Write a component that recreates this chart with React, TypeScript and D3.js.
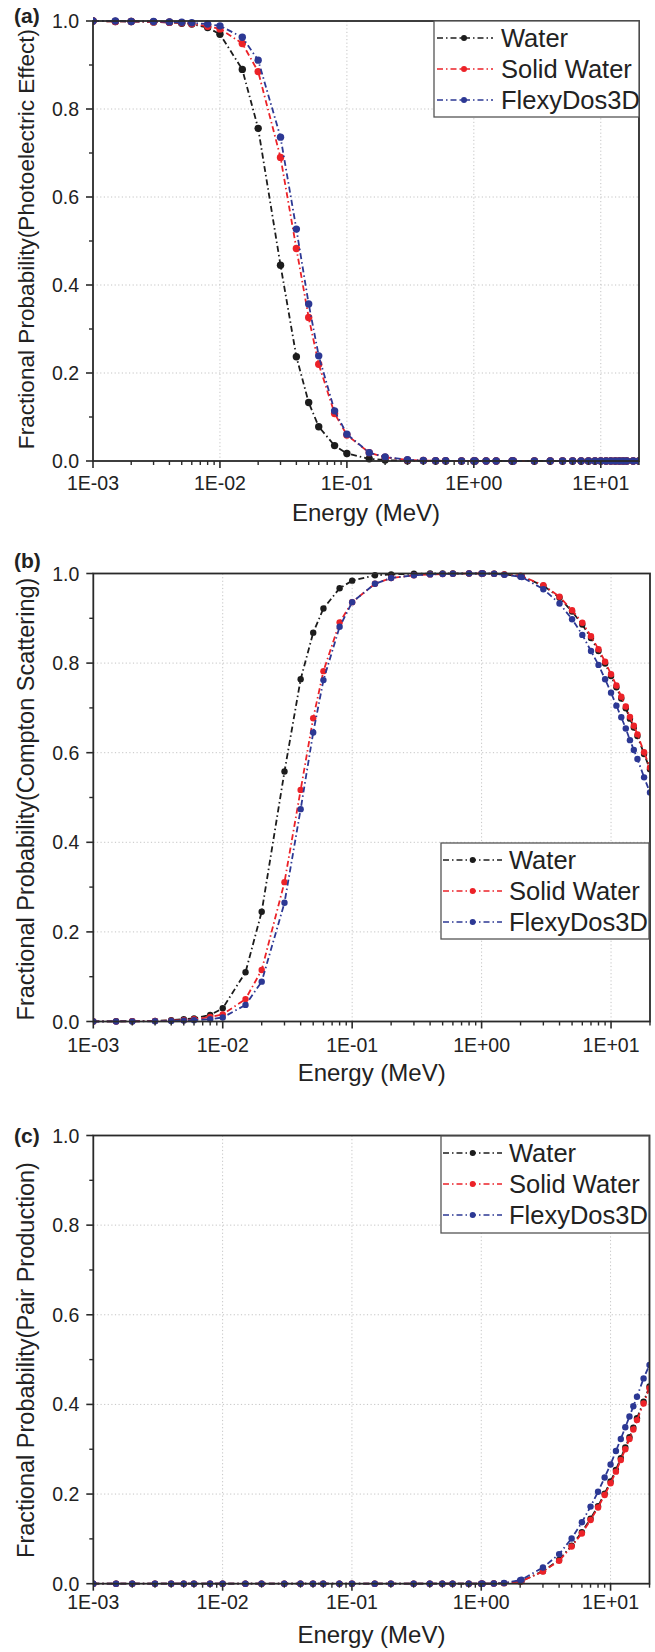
import React from 'react';
import * as d3 from 'd3';

const energies = [0.001, 0.0015, 0.002, 0.003, 0.004, 0.005, 0.006, 0.008, 0.01, 0.015, 0.02, 0.03, 0.04, 0.05, 0.06, 0.08, 0.1, 0.15, 0.2, 0.3, 0.4, 0.5, 0.6, 0.8, 1.0, 1.022, 1.25, 1.5, 2.0, 2.044, 3, 4, 5, 6, 7, 8, 9, 10, 11, 12, 13, 14, 15, 16, 18, 20];

const photoWater = [1.0, 0.999, 0.999, 0.998, 0.997, 0.995, 0.993, 0.985, 0.970, 0.890, 0.756, 0.445, 0.237, 0.133, 0.078, 0.035, 0.017, 0.005, 0.002, 0.0006, 0.0003, 0.0001, 0, 0, 0, 0, 0, 0, 0, 0, 0, 0, 0, 0, 0, 0, 0, 0, 0, 0, 0, 0, 0, 0, 0, 0];
const photoSolid = [1.0, 0.999, 0.999, 0.998, 0.997, 0.996, 0.994, 0.988, 0.982, 0.949, 0.885, 0.690, 0.483, 0.326, 0.220, 0.108, 0.059, 0.019, 0.0085, 0.0025, 0.001, 0.0006, 0.0004, 0.0002, 0, 0, 0, 0, 0, 0, 0, 0, 0, 0, 0, 0, 0, 0, 0, 0, 0, 0, 0, 0, 0, 0];
const photoFlexy = [1.0, 1.0, 0.999, 0.999, 0.998, 0.997, 0.996, 0.993, 0.989, 0.963, 0.911, 0.736, 0.527, 0.357, 0.239, 0.114, 0.061, 0.019, 0.009, 0.0027, 0.0011, 0.0006, 0.0004, 0.0002, 0, 0, 0, 0, 0, 0, 0, 0, 0, 0, 0, 0, 0, 0, 0, 0, 0, 0, 0, 0, 0, 0];

const comptonWater = [0.0002, 0.0004, 0.0008, 0.0015, 0.003, 0.005, 0.007, 0.0145, 0.0295, 0.11, 0.245, 0.558, 0.764, 0.868, 0.922, 0.967, 0.984, 0.996, 0.998, 0.9995, 1.0, 1.0, 1.0, 1.0, 1.0, 1.0, 0.9997, 0.998, 0.994, 0.993, 0.973, 0.946, 0.915, 0.886, 0.856, 0.827, 0.799, 0.771, 0.746, 0.721, 0.699, 0.676, 0.656, 0.637, 0.597, 0.563];
const comptonSolid = [0.0001, 0.0002, 0.0004, 0.001, 0.002, 0.003, 0.005, 0.01, 0.016, 0.05, 0.115, 0.311, 0.517, 0.677, 0.782, 0.891, 0.936, 0.977, 0.99, 0.996, 0.998, 0.999, 0.9995, 1.0, 1.0, 1.0, 0.9997, 0.998, 0.995, 0.994, 0.974, 0.948, 0.918, 0.89, 0.86, 0.831, 0.803, 0.775, 0.75, 0.725, 0.703, 0.68, 0.66, 0.641, 0.601, 0.567];
const comptonFlexy = [0.0, 0.0001, 0.0002, 0.0005, 0.001, 0.002, 0.003, 0.005, 0.009, 0.037, 0.089, 0.265, 0.474, 0.645, 0.762, 0.881, 0.936, 0.977, 0.99, 0.996, 0.998, 0.999, 0.9995, 1.0, 1.0, 1.0, 0.9996, 0.997, 0.993, 0.992, 0.965, 0.933, 0.898, 0.863, 0.827, 0.796, 0.764, 0.734, 0.705, 0.679, 0.654, 0.628, 0.606, 0.586, 0.545, 0.511];

const pairWater = [0, 0, 0, 0, 0, 0, 0, 0, 0, 0, 0, 0, 0, 0, 0, 0, 0, 0, 0, 0, 0, 0, 0, 0, 0, 0, 0.0003, 0.0012, 0.005, 0.006, 0.028, 0.053, 0.085, 0.115, 0.145, 0.173, 0.201, 0.228, 0.254, 0.28, 0.304, 0.327, 0.348, 0.369, 0.406, 0.44];
const pairSolid = [0, 0, 0, 0, 0, 0, 0, 0, 0, 0, 0, 0, 0, 0, 0, 0, 0, 0, 0, 0, 0, 0, 0, 0, 0, 0, 0.0003, 0.0012, 0.005, 0.0055, 0.027, 0.051, 0.083, 0.112, 0.142, 0.17, 0.198, 0.224, 0.25, 0.276, 0.30, 0.323, 0.344, 0.365, 0.402, 0.436];
const pairFlexy = [0, 0, 0, 0, 0, 0, 0, 0, 0, 0, 0, 0, 0, 0, 0, 0, 0, 0, 0, 0, 0, 0, 0, 0, 0, 0, 0.0004, 0.0015, 0.008, 0.009, 0.036, 0.066, 0.101, 0.137, 0.172, 0.205, 0.237, 0.266, 0.296, 0.323, 0.349, 0.373, 0.396, 0.417, 0.458, 0.488];

const seriesNames = ['Water', 'Solid Water', 'FlexyDos3D'];
const seriesColors = ['#1c1c1c', '#ec2228', '#2c3894'];

const xTickValues = [1e-3, 1e-2, 1e-1, 1, 10];
const xTickLabels = ['1E-03', '1E-02', '1E-01', '1E+00', '1E+01'];
const yTickValues = [0, 0.2, 0.4, 0.6, 0.8, 1.0];
const yTickLabels = ['0.0', '0.2', '0.4', '0.6', '0.8', '1.0'];
const yMinorTicks = [0.1, 0.3, 0.5, 0.7, 0.9];

const panelLetters = ['(a)', '(b)', '(c)'];
const yTitles = [
  'Fractional Probability(Photoelectric Effect)',
  'Fractional Probability(Compton Scattering)',
  'Fractional Probability(Pair Production)',
];
const xTitle = 'Energy (MeV)';

const panelData = [
  [photoWater, photoSolid, photoFlexy],
  [comptonWater, comptonSolid, comptonFlexy],
  [pairWater, pairSolid, pairFlexy],
];

const layouts = [
  { left: 93, right: 639, top: 21, bottom: 461, xTickY: 490, xTitleY: 521, letterY: 23, r: 3.7, yTitleSize: 22.6, yTitleC: 239,
    legend: { x0: 434, x1: 639, y0: 21, y1: 117, rows: [38, 69, 100], l0: 437, l1: 493, m: 464, t: 501 } },
  { left: 93.3, right: 650, top: 573.5, bottom: 1021.5, xTickY: 1052, xTitleY: 1081, letterY: 568, r: 3.2, yTitleSize: 23.5, yTitleC: 799,
    legend: { x0: 441, x1: 649, y0: 843, y1: 939, rows: [860, 891, 922], l0: 443, l1: 502, m: 472.7, t: 509 } },
  { left: 93.3, right: 649.5, top: 1135.5, bottom: 1583.7, xTickY: 1609, xTitleY: 1643, letterY: 1143, r: 3.2, yTitleSize: 23.5, yTitleC: 1360,
    legend: { x0: 441, x1: 649, y0: 1136, y1: 1233, rows: [1153, 1184, 1215], l0: 443, l1: 502, m: 472.7, t: 509 } },
];

const FONT = '"Liberation Sans", Arial, Helvetica, sans-serif';
const DASH = '6,3,1.5,3';

function minorXTicks(): number[] {
  const out: number[] = [];
  for (let e = -3; e <= 1; e++) {
    for (let k = 2; k <= 9; k++) {
      const v = k * Math.pow(10, e);
      if (v <= 20) out.push(v);
    }
  }
  return out;
}

function Panel({ idx }: { idx: number }) {
  const L = layouts[idx];
  const x = d3.scaleLog().domain([1e-3, 20]).range([L.left, L.right]);
  const y = d3.scaleLinear().domain([0, 1]).range([L.bottom, L.top]);
  const line = d3.line<number>().x((_, i) => x(energies[i])).y((d) => y(d));
  const clipId = `clip-${idx}`;
  const minors = minorXTicks();
  const lg = L.legend;
  return (
    <g>
      <defs>
        <clipPath id={clipId}>
          <rect x={L.left} y={L.top - 10} width={L.right - L.left} height={L.bottom - L.top + 20} />
        </clipPath>
      </defs>
      {xTickValues.slice(1).map((v) => (
        <line key={'gx' + v} x1={x(v)} x2={x(v)} y1={L.top} y2={L.bottom} stroke="#c4c4c4" strokeWidth={1} strokeDasharray="1.2,2.4" />
      ))}
      {yTickValues.slice(1, -1).map((v) => (
        <line key={'gy' + v} x1={L.left} x2={L.right} y1={y(v)} y2={y(v)} stroke="#c4c4c4" strokeWidth={1} strokeDasharray="1.2,2.4" />
      ))}
      <g clipPath={`url(#${clipId})`}>
        {panelData[idx].map((vals, s) => (
          <g key={'s' + s}>
            <path d={line(vals) || ''} fill="none" stroke={seriesColors[s]} strokeWidth={1.8} strokeDasharray={DASH} />
            {vals.map((v, i) => (
              <circle key={i} cx={x(energies[i])} cy={y(v)} r={L.r} fill={seriesColors[s]} />
            ))}
          </g>
        ))}
      </g>
      <rect x={L.left} y={L.top} width={L.right - L.left} height={L.bottom - L.top} fill="none" stroke="#2a2a2a" strokeWidth={1.8} />
      {xTickValues.map((v, i) => (
        <g key={'xt' + v}>
          <line x1={x(v)} x2={x(v)} y1={L.bottom} y2={L.bottom + 7} stroke="#2a2a2a" strokeWidth={1.6} />
          <text x={x(v)} y={L.xTickY} textAnchor="middle" fontSize={19.5} fontFamily={FONT} fill="#222">{xTickLabels[i]}</text>
        </g>
      ))}
      {minors.map((v) => (
        <line key={'xm' + v} x1={x(v)} x2={x(v)} y1={L.bottom} y2={L.bottom + 4} stroke="#2a2a2a" strokeWidth={1.4} />
      ))}
      {yTickValues.map((v, i) => (
        <g key={'yt' + v}>
          <line x1={L.left - 7} x2={L.left} y1={y(v)} y2={y(v)} stroke="#2a2a2a" strokeWidth={1.6} />
          <text x={L.left - 14} y={y(v) + 7} textAnchor="end" fontSize={19.5} fontFamily={FONT} fill="#222">{yTickLabels[i]}</text>
        </g>
      ))}
      {yMinorTicks.map((v) => (
        <line key={'ym' + v} x1={L.left - 4} x2={L.left} y1={y(v)} y2={y(v)} stroke="#2a2a2a" strokeWidth={1.4} />
      ))}
      <text x={(L.left + L.right) / 2} y={L.xTitleY} textAnchor="middle" fontSize={24} fontFamily={FONT} fill="#222">{xTitle}</text>
      <text transform={`translate(34,${L.yTitleC}) rotate(-90)`} textAnchor="middle" fontSize={L.yTitleSize} fontFamily={FONT} fill="#222">{yTitles[idx]}</text>
      <text x={14} y={L.letterY} fontSize={21} fontWeight="bold" fontFamily={FONT} fill="#222">{panelLetters[idx]}</text>
      <rect x={lg.x0} y={lg.y0} width={lg.x1 - lg.x0} height={lg.y1 - lg.y0} fill="#fff" stroke="#555" strokeWidth={1.3} />
      {seriesNames.map((name, s) => (
        <g key={'lg' + s}>
          <line x1={lg.l0} x2={lg.l1} y1={lg.rows[s]} y2={lg.rows[s]} stroke={seriesColors[s]} strokeWidth={1.5} strokeDasharray={DASH} />
          <circle cx={lg.m} cy={lg.rows[s]} r={3} fill={seriesColors[s]} />
          <text x={lg.t} y={lg.rows[s] + 9} fontSize={25.5} fontFamily={FONT} fill="#222">{name}</text>
        </g>
      ))}
    </g>
  );
}

export default function App() {
  return (
    <svg width={655} height={1652} style={{ position: 'absolute', left: 0, top: 0, background: '#fff' }}>
      <rect x={0} y={0} width={655} height={1652} fill="#fff" />
      {[0, 1, 2].map((i) => (
        <Panel key={i} idx={i} />
      ))}
    </svg>
  );
}
